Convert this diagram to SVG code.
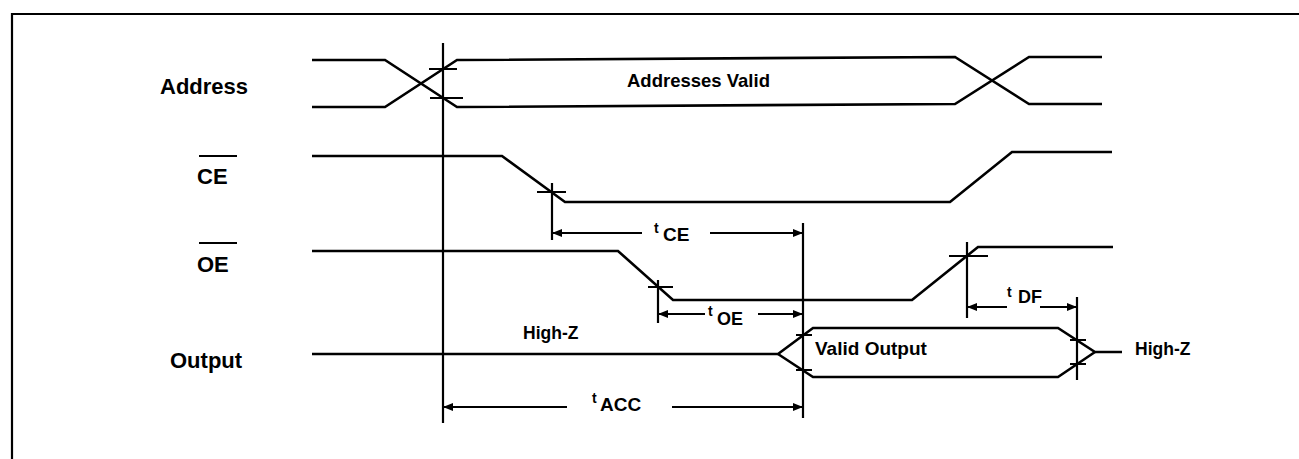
<svg xmlns="http://www.w3.org/2000/svg" width="1299" height="459" viewBox="0 0 1299 459">
<style>
.sig{fill:none;stroke:#000;stroke-width:2.6;stroke-linejoin:miter;stroke-linecap:butt}
.ln{fill:none;stroke:#000;stroke-width:2.2}
.tk{fill:none;stroke:#000;stroke-width:2}
.lbl{font-family:"Liberation Sans",Arial,sans-serif;font-weight:bold;fill:#000}
.dim{fill:none;stroke:#000;stroke-width:2;marker-end:url(#ah)}
</style>
<defs>
<marker id="ah" markerUnits="userSpaceOnUse" markerWidth="10" markerHeight="8" refX="10" refY="4" orient="auto">
<path d="M0,0 L10,4 L0,8 Z" fill="#000"/>
</marker>
</defs>
<rect width="1299" height="459" fill="#fff"/>
<path class="ln" d="M12,459 V14 H1299"/>

<g id="address">
<text class="lbl" x="160" y="94" font-size="22">Address</text>
<path class="sig" d="M312,60 H385 L457,107 L955,104 L1029,57 H1102"/>
<path class="sig" d="M312,107 H385 L457,60 L955,57 L1029,104 H1102"/>
<text class="lbl" x="627" y="87" font-size="18.5">Addresses Valid</text>
<path class="tk" d="M429,69 H457 M430,98 H463"/>
</g>

<g id="ce">
<text class="lbl" x="197" y="184" font-size="22">CE</text>
<path class="tk" d="M199,156 H237"/>
<path class="sig" d="M312,156 H502 L565,202 H950 L1012,152 H1112"/>
<path class="tk" d="M537,192 H566"/>
</g>

<g id="oe">
<text class="lbl" x="197" y="272" font-size="22">OE</text>
<path class="tk" d="M199,243 H237"/>
<path class="sig" d="M312,251 H618 L673,300 H912 L978,247 H1113"/>
<path class="tk" d="M648,287 H673 M949,256 H988"/>
</g>

<g id="output">
<text class="lbl" x="170" y="368" font-size="22">Output</text>
<text class="lbl" x="523" y="339" font-size="17.5">High-Z</text>
<path class="sig" d="M312,354 H778 L813,328 H1058 L1095,352 H1122"/>
<path class="sig" d="M778,354 L813,377 H1058 L1095,352"/>
<text class="lbl" x="815" y="355" font-size="19">Valid Output</text>
<text class="lbl" x="1135" y="355" font-size="17.5">High-Z</text>
<path class="tk" d="M796,335 H812 M796,370 H812 M1070,340 H1086 M1070,364 H1086"/>
</g>

<g id="connectors">
<path class="ln" d="M443,43 V423 M552,183 V240 M803,223 V418 M658,280 V323 M967,242 V318 M1077,297 V380"/>
<path class="dim" d="M642,233 H552"/>
<path class="dim" d="M710,233 H803"/>
<path class="dim" d="M705,314 H658"/>
<path class="dim" d="M758,314 H803"/>
<path class="dim" d="M1007,307 H967"/>
<path class="dim" d="M1040,307 H1077"/>
<path class="dim" d="M567,407 H443"/>
<path class="dim" d="M672,407 H803"/>
</g>

<g id="timing-labels">
<text class="lbl" x="654" y="233" font-size="14">t</text>
<text class="lbl" x="663" y="241" font-size="19">CE</text>
<text class="lbl" x="708" y="316" font-size="14">t</text>
<text class="lbl" x="717" y="325" font-size="18">OE</text>
<text class="lbl" x="1007" y="297" font-size="14">t</text>
<text class="lbl" x="1018" y="303" font-size="18">DF</text>
<text class="lbl" x="592" y="403" font-size="14">t</text>
<text class="lbl" x="600" y="411" font-size="19">ACC</text>
</g>
</svg>
